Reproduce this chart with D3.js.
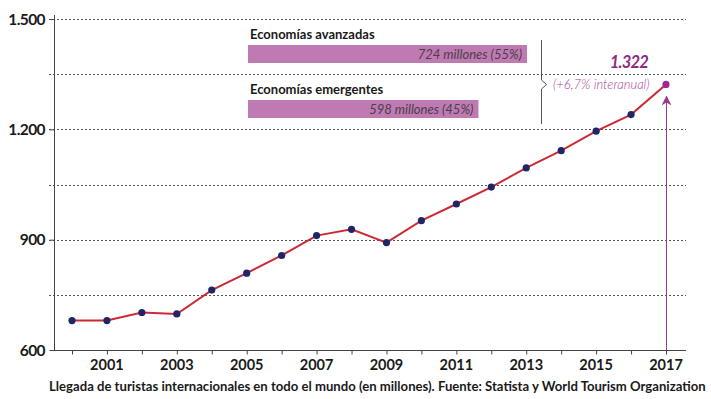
<!DOCTYPE html>
<html>
<head>
<meta charset="utf-8">
<script src="https://cdn.jsdelivr.net/npm/d3@7.9.0/dist/d3.min.js"></script>
<style>
  body { margin: 0; background: #fff; }
  svg { display: block; font-family: Lato, "Open Sans", sans-serif; }
</style>
</head>
<body>
<svg id="chart" width="711" height="399"></svg>
<script>
// data
const years = d3.range(2000, 2018);
const arrivals = [680, 680, 702, 698, 763, 809, 857, 911, 928, 892, 952, 997, 1043, 1095, 1142, 1195, 1240, 1322];
const yTicks = [600, 900, 1200, 1500];
const gridValues = [600, 750, 900, 1050, 1200, 1350, 1500];
const xLabelYears = [2001, 2003, 2005, 2007, 2009, 2011, 2013, 2015, 2017];
const groups = ['Economías avanzadas', 'Economías emergentes'];
const groupValues = [724, 598];
const groupLabels = ['724 millones (55%)', '598 millones (45%)'];

const svg = d3.select('#chart');
const x = d3.scaleLinear().domain([2000, 2017]).range([72, 666]);
const y = d3.scaleLinear().domain([600, 1500]).range([350, 19]);
const fmt = v => d3.format(',')(v).replace(/,/g, '.');

// dotted grid
svg.append('g').selectAll('line').data(gridValues.filter(v => v > 600)).join('line')
  .attr('x1', 49).attr('x2', 686)
  .attr('y1', d => Math.round(y(d)) + 0.5).attr('y2', d => Math.round(y(d)) + 0.5)
  .attr('stroke', '#555').attr('stroke-width', 1).attr('stroke-dasharray', '2,2');

// x axis
const xAxis = svg.append('g').attr('transform', 'translate(0,350.5)')
  .call(d3.axisBottom(x).tickValues(years).tickSize(4).tickFormat(''));
xAxis.select('.domain').attr('d', 'M54,0H686').attr('stroke', '#444');
xAxis.selectAll('.tick line').attr('stroke', '#444');
svg.append('g').selectAll('text').data(xLabelYears).join('text')
  .attr('x', d => x(d)).attr('y', 370)
  .attr('text-anchor', 'middle').attr('font-size', 14.5).attr('font-weight', 700)
  .attr('fill', '#1a1a1a').text(d => d);

// y axis
const yAxis = svg.append('g').attr('transform', 'translate(54.5,0)')
  .call(d3.axisLeft(y).tickValues(yTicks).tickSize(5).tickFormat(''));
yAxis.select('.domain').attr('d', 'M0,15V350').attr('stroke', '#444');
yAxis.selectAll('.tick line').attr('stroke', '#444');
svg.append('g').selectAll('text').data(yTicks).join('text')
  .attr('x', 45).attr('y', d => y(d) + 5.5)
  .attr('text-anchor', 'end').attr('font-size', 15.5).attr('font-weight', 700)
  .attr('letter-spacing', -0.6).attr('fill', '#1a1a1a').text(d => fmt(d));

// bars of the split
const w = d3.scaleLinear().domain([0, 724]).range([0, 279]);
const barY = [45, 100];
const bars = svg.append('g');
groups.forEach((g, i) => {
  bars.append('text').attr('x', 250).attr('y', barY[i] - 6)
    .attr('font-size', 13).attr('font-weight', 700).attr('fill', '#1a1a1a').text(g);
  bars.append('rect').attr('x', 248).attr('y', barY[i])
    .attr('width', w(groupValues[i])).attr('height', 18).attr('fill', '#c07ab3');
  bars.append('text').attr('x', 248 + w(groupValues[i]) - 5).attr('y', barY[i] + 13.5)
    .attr('text-anchor', 'end').attr('font-size', 13).attr('font-style', 'italic')
    .attr('font-weight', 400).attr('fill', '#4a3f48').text(groupLabels[i]);
});

// bracket with notch
svg.append('path')
  .attr('d', 'M541.5,40V80L546.5,84.5L541.5,89V124')
  .attr('fill', 'none').attr('stroke', '#555').attr('stroke-width', 1);
svg.append('text').attr('x', 553).attr('y', 89)
  .attr('font-size', 13).attr('font-style', 'italic').attr('font-weight', 300)
  .attr('fill', '#a8409a').text('(+6,7% interanual)');

// arrow to last point
const last = arrivals.length - 1;
svg.append('defs').append('marker').attr('id', 'head')
  .attr('viewBox', '0 0 10 10').attr('refX', 9).attr('refY', 5)
  .attr('markerWidth', 10).attr('markerHeight', 10).attr('markerUnits', 'userSpaceOnUse')
  .attr('orient', 'auto')
  .append('path').attr('d', 'M0,0L10,5L0,10L3,5Z').attr('fill', '#9a3a8e');
svg.append('line')
  .attr('x1', x(years[last]) + 0.5).attr('x2', x(years[last]) + 0.5)
  .attr('y1', 350).attr('y2', y(arrivals[last]) + 12)
  .attr('stroke', '#9a3a8e').attr('stroke-width', 1)
  .attr('marker-end', 'url(#head)');

// line + dots
svg.append('path').datum(arrivals)
  .attr('d', d3.line().x((d, i) => x(years[i])).y(d => y(d)))
  .attr('fill', 'none').attr('stroke', '#cc2b35').attr('stroke-width', 2);
svg.append('g').selectAll('circle').data(arrivals).join('circle')
  .attr('cx', (d, i) => x(years[i])).attr('cy', d => y(d)).attr('r', 3.6)
  .attr('fill', (d, i) => i === last ? '#a3268f' : '#1f2666');

svg.append('text').attr('x', 648).attr('y', 68).attr('text-anchor', 'end')
  .attr('font-size', 16.5).attr('font-weight', 700).attr('font-style', 'italic')
  .attr('letter-spacing', -0.8).attr('fill', '#8e2a82').text(fmt(arrivals[last]));

// caption
const cap = svg.append('text').attr('x', 49).attr('y', 391)
  .attr('font-size', 13).attr('font-weight', 700).attr('fill', '#1a1a1a')
  .text('Llegada de turistas internacionales en todo el mundo (en millones). Fuente: Statista y World Tourism Organization');
const len = cap.node().getComputedTextLength();
cap.attr('font-size', 13 * 657 / len);
</script>
</body>
</html>
